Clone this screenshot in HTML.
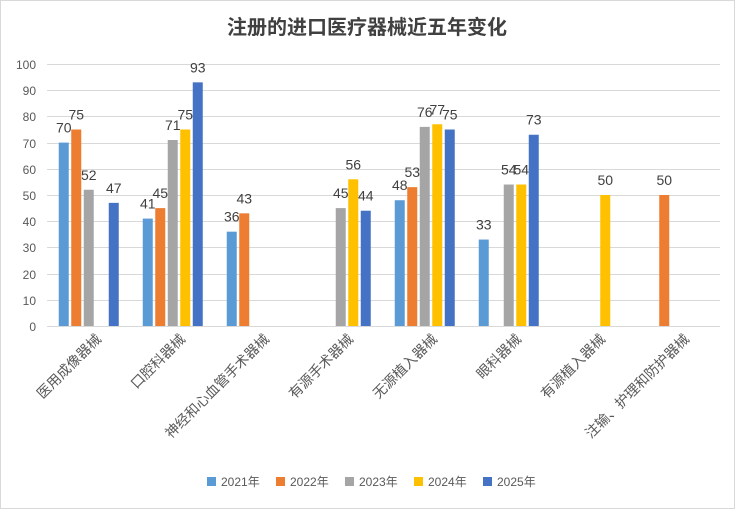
<!DOCTYPE html>
<html><head><meta charset="utf-8"><style>
body{margin:0;background:#fff}
svg{display:block;font-family:"Liberation Sans","Noto Sans CJK SC",sans-serif}
</style></head><body>
<svg width="735" height="509" xmlns="http://www.w3.org/2000/svg">
<rect x="0.5" y="0.5" width="734" height="508" fill="#fff" stroke="#d9d9d9"/>
<text x="367" y="34" text-anchor="middle" font-size="20" font-weight="bold" fill="#404040">注册的进口医疗器械近五年变化</text>
<g stroke="#d9d9d9" stroke-width="1">
<line x1="47" x2="720" y1="64.5" y2="64.5"/><line x1="47" x2="720" y1="90.5" y2="90.5"/><line x1="47" x2="720" y1="116.5" y2="116.5"/><line x1="47" x2="720" y1="143.5" y2="143.5"/><line x1="47" x2="720" y1="169.5" y2="169.5"/><line x1="47" x2="720" y1="195.5" y2="195.5"/><line x1="47" x2="720" y1="221.5" y2="221.5"/><line x1="47" x2="720" y1="247.5" y2="247.5"/><line x1="47" x2="720" y1="274.5" y2="274.5"/><line x1="47" x2="720" y1="300.5" y2="300.5"/><line x1="47" x2="720" y1="326.5" y2="326.5"/>
</g>
<g font-size="12" fill="#595959" text-anchor="end">
<text x="36" y="69">100</text><text x="36" y="95">90</text><text x="36" y="121">80</text><text x="36" y="148">70</text><text x="36" y="174">60</text><text x="36" y="200">50</text><text x="36" y="226">40</text><text x="36" y="252">30</text><text x="36" y="279">20</text><text x="36" y="305">10</text><text x="36" y="331">0</text>
</g>
<g id="bars"></g>
<g font-size="14" fill="#595959" id="cats"></g>
<g font-size="12" fill="#595959">
<rect x="207" y="477" width="9" height="9" fill="#5B9BD5"/><text x="221" y="486">2021年</text>
<rect x="276" y="477" width="9" height="9" fill="#ED7D31"/><text x="290" y="486">2022年</text>
<rect x="345" y="477" width="9" height="9" fill="#A5A5A5"/><text x="359" y="486">2023年</text>
<rect x="414" y="477" width="9" height="9" fill="#FFC000"/><text x="428" y="486">2024年</text>
<rect x="483" y="477" width="9" height="9" fill="#4472C4"/><text x="497" y="486">2025年</text>
</g>
<script>
var data=[[70,75,52,null,47],[41,45,71,75,93],[36,43,null,null,null],[null,null,45,56,44],[48,53,76,77,75],[33,null,54,54,73],[null,null,null,50,null],[null,50,null,null,null]];
var cats=["医用成像器械","口腔科器械","神经和心血管手术器械","有源手术器械","无源植入器械","眼科器械","有源植入器械","注输、护理和防护器械"];
var cols=["#5B9BD5","#ED7D31","#A5A5A5","#FFC000","#4472C4"];
var ns="http://www.w3.org/2000/svg",b=document.getElementById("bars"),c=document.getElementById("cats");
data.forEach(function(g,i){var x0=48+84*i+10.75;
g.forEach(function(v,j){if(v==null)return;var x=x0+12.5*j,h=v*2.62,y=326-h;
var r=document.createElementNS(ns,"rect");r.setAttribute("x",x);r.setAttribute("y",y);r.setAttribute("width",10);r.setAttribute("height",h);r.setAttribute("fill",cols[j]);b.appendChild(r);
var t=document.createElementNS(ns,"text");t.setAttribute("x",x+5);t.setAttribute("y",y-10);t.setAttribute("text-anchor","middle");t.setAttribute("font-size","14");t.setAttribute("fill","#404040");t.textContent=v;b.appendChild(t);});
var cx=48+84*i+42+12,cy=340;var t=document.createElementNS(ns,"text");t.setAttribute("x",cx);t.setAttribute("y",cy);t.setAttribute("text-anchor","end");t.setAttribute("transform","rotate(-45 "+cx+" "+cy+")");t.textContent=cats[i];c.appendChild(t);});
</script>
</svg>
</body></html>
